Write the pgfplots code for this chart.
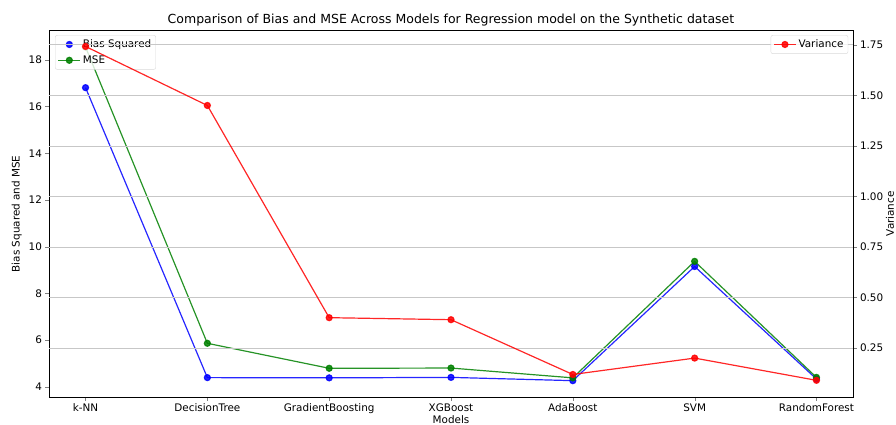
\documentclass[border=0pt]{standalone}
\usepackage{pgfplots}
\pgfplotsset{compat=1.18}
\usepackage{fontspec}
\setmainfont{DejaVu Sans}
\definecolor{mplgreen}{RGB}{0,128,0}
\begin{document}
\begin{tikzpicture}[font=\fontsize{10.4pt}{12.5pt}\selectfont]
\path[use as bounding box] (-49pt,-28pt) rectangle (847pt,397pt);
\pgfplotsset{
  common/.style={
    at={(0,0)}, anchor=south west, scale only axis,
    width=804pt, height=366.3pt,
    xmin=-0.3, xmax=6.3,
    tick align=outside, major tick length=3.5pt,
    /pgf/number format/assume math mode=true,
    tick label style={font=\fontsize{10.4pt}{12.5pt}\selectfont},
    label style={font=\fontsize{10.4pt}{12.5pt}\selectfont},
    legend cell align=left,
    legend image code/.code={\draw[mark repeat=2, mark phase=2, #1] plot coordinates {(0pt,0pt) (11pt,0pt) (22pt,0pt)};},
    legend style={draw=black!15, rounded corners=2pt, fill=white, fill opacity=0.8, text opacity=1,
      font=\fontsize{10.4pt}{12.5pt}\selectfont, inner sep=2.5pt, row sep=2.5pt},
    every axis plot/.append style={line width=1.2pt, mark=*, mark size=3pt, opacity=0.85},
  }
}
\begin{axis}[common,
  ymin=3.56, ymax=19.25,
  xtick={0,1,2,3,4,5,6},
  xticklabels={k-NN,DecisionTree,GradientBoosting,XGBoost,AdaBoost,SVM,RandomForest},
  ytick={4,6,8,10,12,14,16,18},
  xtick pos=bottom, ytick pos=left,
  xlabel={Models}, ylabel={Bias Squared and MSE},
  xlabel style={yshift=5pt},
  title={Comparison of Bias and MSE Across Models for Regression model on the Synthetic dataset},
  title style={font=\fontsize{12.5pt}{14pt}\selectfont, yshift=-5pt},
  legend style={at={(0.0075,0.988)}, anchor=north west},
]
\addplot[blue, mark options={fill=blue}] coordinates {(0,16.81) (1,4.39) (2,4.38) (3,4.40) (4,4.26) (5,9.15) (6,4.33)};
\addlegendentry{Bias Squared}
\addplot[mplgreen, mark options={fill=mplgreen}] coordinates {(0,18.55) (1,5.86) (2,4.79) (3,4.80) (4,4.38) (5,9.37) (6,4.40)};
\addlegendentry{MSE}
\end{axis}
\begin{axis}[common,
  ymin=0.0075, ymax=1.82,
  axis x line=none, axis y line*=right,
  ytick={0.25,0.5,0.75,1,1.25,1.5,1.75},
  yticklabel style={/pgf/number format/.cd, fixed, fixed zerofill, precision=2},
  ymajorgrids, grid style={black!22, line width=0.7pt},
  ylabel={Variance},
  ylabel style={yshift=4pt},
  legend style={at={(0.994,0.988)}, anchor=north east},
]
\addplot[red, mark options={fill=red}] coordinates {(0,1.742) (1,1.45) (2,0.40) (3,0.39) (4,0.119) (5,0.20) (6,0.09)};
\addlegendentry{Variance}
\end{axis}
\end{tikzpicture}
\end{document}
